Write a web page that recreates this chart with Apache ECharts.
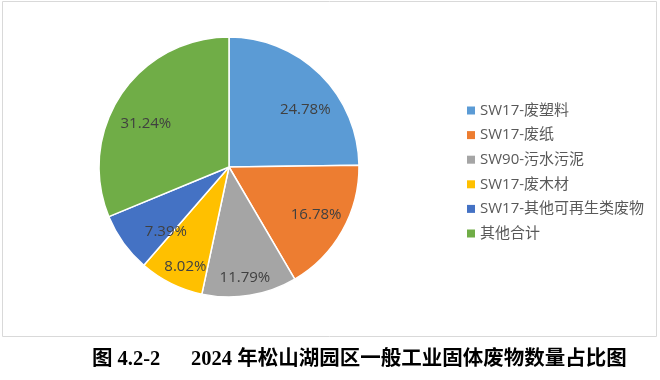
<!DOCTYPE html>
<html><head><meta charset="utf-8">
<script src="https://cdn.jsdelivr.net/npm/echarts@6/dist/echarts.min.js"></script>
<style>html,body{margin:0;padding:0;background:#fff}#c{width:660px;height:380px}</style>
</head><body><div id="c"></div>
<script>
var categories = ['SW17-废塑料','SW17-废纸','SW90-污水污泥','SW17-废木材','SW17-其他可再生类废物','其他合计'];
var values = [24.78, 16.78, 11.79, 8.02, 7.39, 31.24];
var colors = ['#5B9BD5','#ED7D31','#A5A5A5','#FFC000','#4472C4','#70AD47'];
var titleText = '图 4.2-2      2024 年松山湖园区一般工业固体废物数量占比图';

var data = categories.map(function(n,i){return {name:n,value:values[i]};});
var chart = echarts.init(document.getElementById('c'));
// small label nudges imitating the original "best fit" label placement
var nudge = [[6,14],[0,-1],[0,12],[1,10],[18,6],[0,12]];
chart.setOption({
  animation:false,
  color:colors,
  graphic:[{type:'rect',shape:{x:2.5,y:1.5,width:654,height:335},style:{fill:'none',stroke:'#d9d9d9',lineWidth:1},silent:true}],
  title:{text:titleText,left:87,top:344,textStyle:{fontFamily:'"Liberation Serif","Noto Sans CJK SC",serif',fontWeight:'bold',fontSize:20.5,color:'#000'}},
  legend:{orient:'vertical',left:462,top:98,icon:'rect',itemWidth:8,itemHeight:8,itemGap:9.6,
    itemStyle:{borderWidth:0},
    textStyle:{fontSize:15,color:'#595959',fontFamily:'"Open Sans","Noto Sans CJK SC",sans-serif'},data:categories},
  series:[
    {type:'pie',center:[229,167],radius:[0,130],startAngle:90,clockwise:true,data:data,
     itemStyle:{borderColor:'#fff',borderWidth:1.5},label:{show:false},labelLine:{show:false},silent:true},
    {type:'pie',center:[229,167],radius:[64,130],startAngle:90,clockwise:true,data:data,
     itemStyle:{color:'rgba(0,0,0,0)'},silent:true,legendHoverLink:false,
     label:{show:true,position:'inside',fontSize:15,color:'#404040',fontFamily:'"Open Sans",sans-serif',
       formatter:function(p){return p.value.toFixed(2)+'%';}},labelLine:{show:false},
     labelLayout:function(p){var n=nudge[p.dataIndex];return {dx:n[0],dy:n[1]};}}
  ]
});
</script></body></html>
